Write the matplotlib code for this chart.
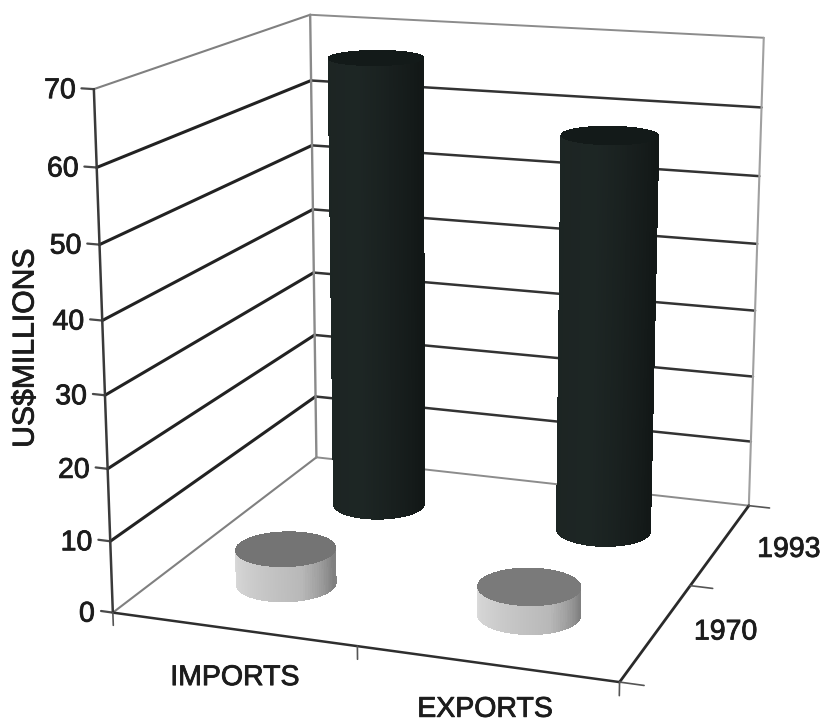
import numpy as np
import matplotlib
matplotlib.use('Agg')
import matplotlib.pyplot as plt
import matplotlib.patheffects as pe
from mpl_toolkits.mplot3d import proj3d

plt.rcParams['font.family'] = ['Liberation Sans', 'DejaVu Sans']

# data
categories = ['IMPORTS', 'EXPORTS']
years = ['1970', '1993']
imports_vals = [5, 67]
exports_vals = [4, 58]
z_ticks = [0, 10, 20, 30, 40, 50, 60, 70]

TEXT = '#1c1c1c'
R = 0.195
heavy = [pe.withStroke(linewidth=0.6, foreground=TEXT)]

fig = plt.figure(figsize=(8.24, 7.25), dpi=100)
ax = fig.add_axes([0.01028, -0.0432, 1.0423, 1.1846], projection='3d', computed_zorder=False)
ax.set_xlim(0, 2, view_margin=0)
ax.set_ylim(0, 2, view_margin=0)
ax.set_zlim(0, 70, view_margin=0)
ax.view_init(elev=14.784, azim=-70.467)
ax.set_proj_type('persp', focal_length=0.5448)
ax.set_box_aspect((0.9936, 1.0067, 1.0))
ax.set_axis_off()


def line3(xs, ys, zs, color, lw):
    ax.plot(xs, ys, zs, color=color, lw=lw, zorder=1, solid_capstyle='round')


def label3(x, y, z, s, dx, dy, ha='center', size=20.5):
    px, py, _ = proj3d.proj_transform(x, y, z, ax.get_proj())
    ax.annotate(s, (px, py), xytext=(dx, dy), textcoords='offset pixels', ha=ha, va='center',
                fontsize=size, color=TEXT, annotation_clip=False, path_effects=heavy)


def cylinder(cx, cy, h, angles, shades, tint, top, zo):
    th = np.linspace(0, 2 * np.pi, 121)
    X = np.array([cx + R * np.cos(th)] * 2)
    Y = np.array([cy + R * np.sin(th)] * 2)
    Z = np.array([np.zeros_like(th), np.full_like(th, h)])
    # brightness by where the facet sits round the cylinder, seen from the front
    rel = np.degrees(th[:-1]) + 70.5
    rel = (rel + 180) % 360 - 180
    g = np.interp(rel, angles, shades)
    cols = np.stack([g * tint[0], g * tint[1], g * tint[2], np.ones_like(g)], axis=1)[None, :, :]
    ax.plot_surface(X, Y, Z, facecolors=cols, shade=False, rstride=1, cstride=1,
                    linewidth=0, antialiased=False, zorder=zo)
    rr = np.array([0, R])
    Xt = cx + np.outer(rr, np.cos(th))
    Yt = cy + np.outer(rr, np.sin(th))
    Zt = np.full_like(Xt, h)
    ax.plot_surface(Xt, Yt, Zt, color=top, shade=False, rstride=1, cstride=1,
                    linewidth=0, antialiased=False, zorder=zo + 1)


# walls and floor
for z in z_ticks:
    wall_col = '#222222' if 0 < z < 70 else '#808080'
    back_col = '#333333' if 0 < z < 70 else '#8c8c8c'
    line3([0, 0], [0, 2], [z, z], wall_col, 2.2 if 0 < z < 70 else 1.5)
    line3([0, 2], [2, 2], [z, z], back_col, 1.8 if 0 < z < 70 else 1.4)
    line3([-0.05, 0], [0, 0], [z, z], '#4a4a4a', 1.6)
    label3(0, 0, z, str(z), -18, -2, ha='right')
line3([0, 0], [0, 0], [0, 70], '#3a3a3a', 1.8)
line3([0, 0], [2, 2], [0, 70], '#8a8a8a', 1.7)
line3([2, 2], [2, 2], [0, 70], '#a0a0a0', 1.5)
line3([0, 2], [0, 0], [0, 0], '#2e2e2e', 1.8)
line3([2, 2], [0, 2], [0, 0], '#2a2a2a', 2.0)
for x in range(3):
    line3([x, x], [0, 0], [0, -1.8], '#555555', 1.2)
for y in range(3):
    line3([2, 2.09], [y, y], [0, 0], '#555555', 1.2)

# bars, back row first
dark_a = [-180, -90, -20, 60, 180]
dark_s = [0.11, 0.13, 0.135, 0.085, 0.11]
dark_t = (0.85, 1.1, 1.05)
pale_a = [-180, -90, -40, 20, 70, 180]
pale_s = [0.55, 0.86, 0.80, 0.72, 0.50, 0.55]
pale_t = (1.0, 1.0, 1.0)
cylinder(0.5, 1.5, imports_vals[1], dark_a, dark_s, dark_t, '#131a19', 2)
cylinder(1.5, 1.5, exports_vals[1], dark_a, dark_s, dark_t, '#131a19', 4)
cylinder(0.5, 0.5, imports_vals[0], pale_a, pale_s, pale_t, '#747474', 6)
cylinder(1.5, 0.5, exports_vals[0], pale_a, pale_s, pale_t, '#7a7a7a', 8)

cat_nudge = [(2, -49), (-1, -46)]
for i, name in enumerate(categories):
    label3(i + 0.5, 0, 0, name, cat_nudge[i][0], cat_nudge[i][1], size=20.5)
year_nudge = [(69, -1), (68, -6)]
for i, year in enumerate(years):
    label3(2, i + 0.5, 0, year, year_nudge[i][0], year_nudge[i][1])

fig.text(0.031, 0.52, 'US$MILLIONS', rotation=90, ha='center', va='center',
         fontsize=21.7, color=TEXT, path_effects=heavy)

fig.savefig('out.png', dpi=100)
